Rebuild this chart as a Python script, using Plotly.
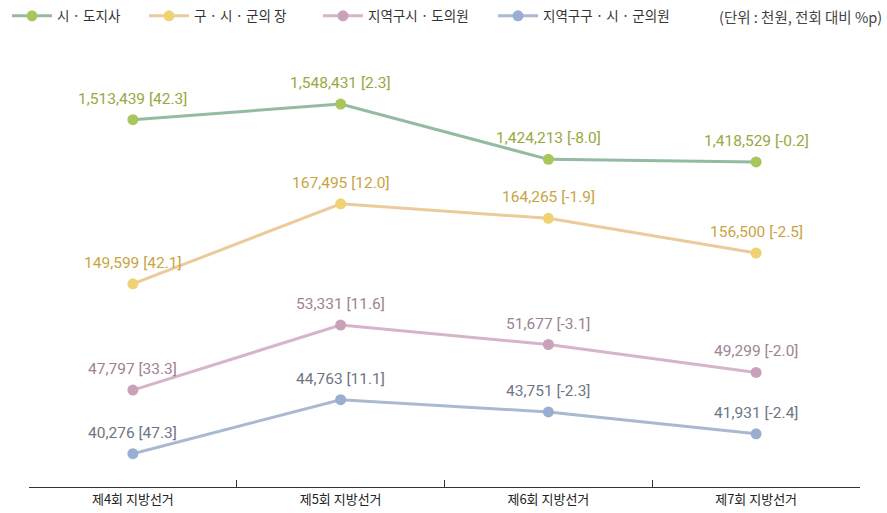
import plotly.graph_objects as go

# 지방선거 회차별 기탁금(천원)과 전회 대비 증감(%p)
elections = ["제4회 지방선거", "제5회 지방선거", "제6회 지방선거", "제7회 지방선거"]

mayor_governor = [1513439, 1548431, 1424213, 1418529]
mayor_governor_chg = [42.3, 2.3, -8.0, -0.2]

district_head = [149599, 167495, 164265, 156500]
district_head_chg = [42.1, 12.0, -1.9, -2.5]

provincial_council = [47797, 53331, 51677, 49299]
provincial_council_chg = [33.3, 11.6, -3.1, -2.0]

local_council = [40276, 44763, 43751, 41931]
local_council_chg = [47.3, 11.1, -2.3, -2.4]

series = [
    # name, values, changes, line colour, marker colour, text colour, axis, range, legend
    ("시 · 도지사", mayor_governor, mayor_governor_chg,
     "#93bba2", "#a9c65c", "#9aa83e", "y", [688700, 1647300], "legend"),
    ("구 · 시 · 군의 장", district_head, district_head_chg,
     "#ebcb9c", "#f0d274", "#c9a442", "y2", [104150, 199680], "legend2"),
    ("지역구시 · 도의원", provincial_council, provincial_council_chg,
     "#d6b4c9", "#c9a2ba", "#9c8492", "y3", [39550, 75890], "legend3"),
    ("지역구구 · 시 · 군의원", local_council, local_council_chg,
     "#a9b9cf", "#9aaed2", "#6e7684", "y4", [37510, 72990], "legend4"),
]

label_font = "Roboto, 'Noto Sans CJK KR', sans-serif"
kr_font = "'Noto Sans CJK KR', sans-serif"

W, H = 887, 513
ML, MR, MT, MB = 29, 27, 60, 26
PW, PH = W - ML - MR, H - MT - MB

fig = go.Figure()
annotations = []
for name, vals, chg, lc, mc, tc, yax, rng, lg in series:
    fig.add_trace(go.Scatter(
        x=elections, y=vals, name=name, yaxis=yax, legend=lg,
        mode="lines+markers",
        line=dict(color=lc, width=3),
        marker=dict(color=mc, size=11, line=dict(width=0)),
        hoverinfo="skip",
    ))
    for x, v, c in zip(elections, vals, chg):
        annotations.append(dict(
            x=x, y=v, xref="x", yref=yax,
            text=f"{v:,} [{c:.1f}]",
            showarrow=False, yshift=21,
            font=dict(family=label_font, size=15.5, color=tc),
        ))

# unit note in the top-right corner (paper coords extend into the margin)
annotations.append(dict(
    x=(W - 3 - ML) / PW, y=(H - MB - 16) / PH, xref="paper", yref="paper",
    showarrow=False, text="(단위 : 천원, 전회 대비 %p)",
    xanchor="right", yanchor="middle",
    font=dict(family=kr_font, size=14.5, color="#444"),
))

layout = dict(
    width=W, height=H,
    paper_bgcolor="white", plot_bgcolor="white",
    margin=dict(l=ML, r=MR, t=MT, b=MB, autoexpand=False),
    showlegend=True,
    annotations=annotations,
    font=dict(family=kr_font, color="#333"),
    xaxis=dict(
        type="category", range=[-0.5, 3.5],
        showgrid=False, zeroline=False,
        showline=True, linecolor="#333", linewidth=1.2,
        ticks="inside", ticklen=7, tickcolor="#333", tickwidth=1.2,
        tickson="boundaries",
        tickfont=dict(family=kr_font, size=13, color="#222"),
        ticklabelstandoff=0,
    ),
)

for name, vals, chg, lc, mc, tc, yax, rng, lg in series:
    key = "yaxis" if yax == "y" else "yaxis" + yax[1:]
    ax = dict(range=rng, visible=False, showgrid=False, zeroline=False,
              fixedrange=True)
    if yax != "y":
        ax["overlaying"] = "y"
    layout[key] = ax

# each legend entry placed at its own spot along the top row
legend_x = [7, 144, 318, 493]
for s, lx in zip(series, legend_x):
    lg = s[-1]
    layout[lg] = dict(
        x=lx / W, y=1 - 16 / H, xref="container", yref="container",
        xanchor="left", yanchor="middle",
        orientation="h", bgcolor="rgba(0,0,0,0)",
        font=dict(family=kr_font, size=13.5, color="#333"),
        itemwidth=40,
    )

fig.update_layout(**layout)
fig.write_html("out.html")
